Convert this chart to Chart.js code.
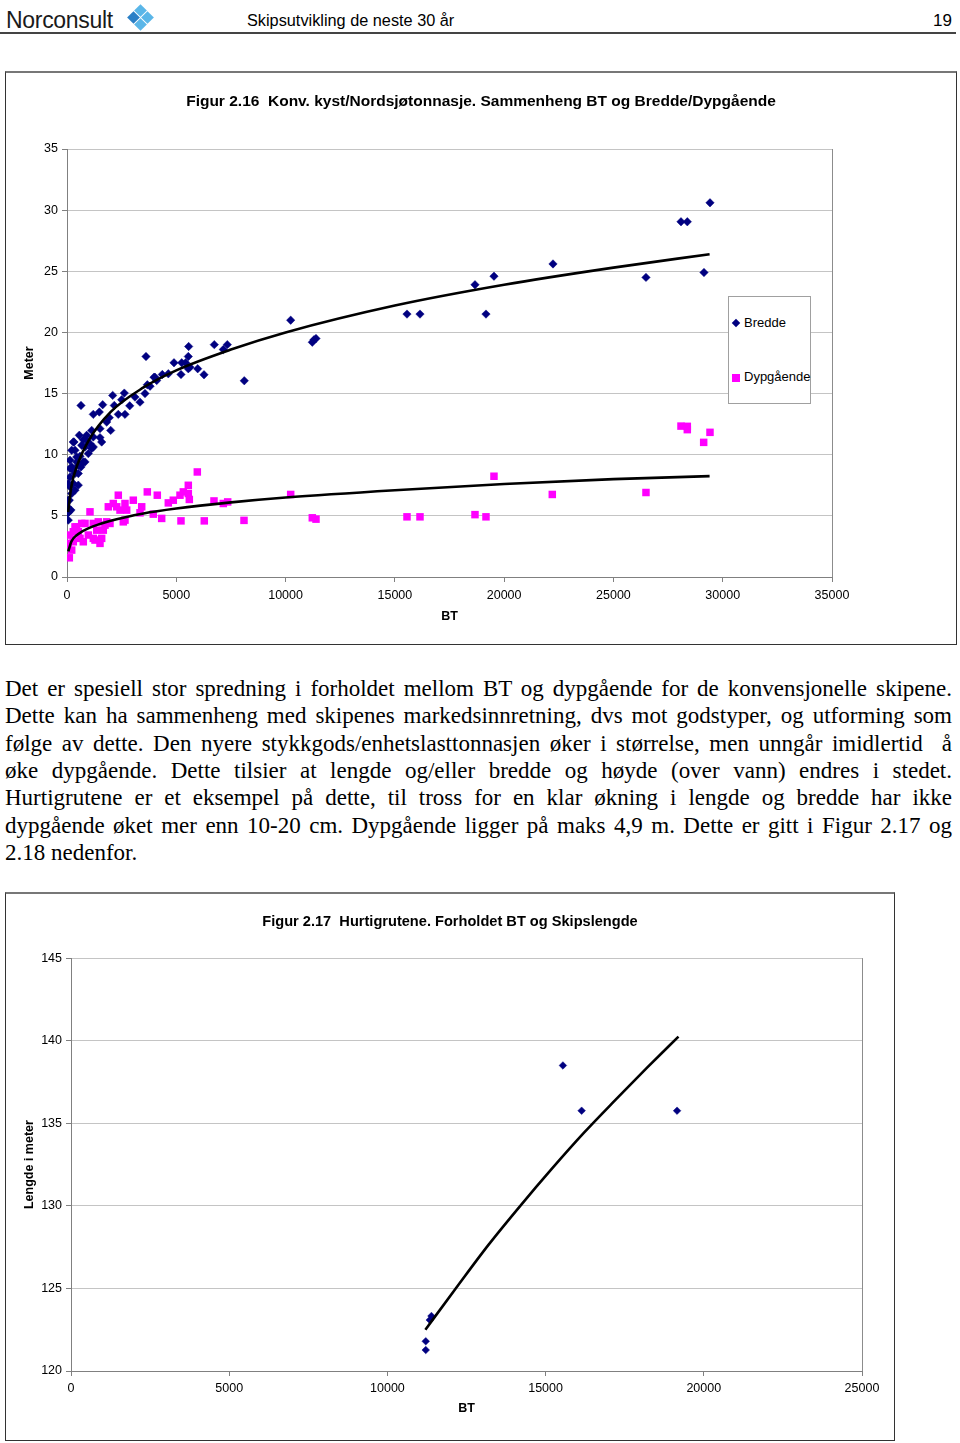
<!DOCTYPE html>
<html><head><meta charset="utf-8">
<script src="https://cdn.jsdelivr.net/npm/chart.js@4.4.0/dist/chart.umd.min.js"></script>
<style>
html,body{margin:0;padding:0;background:#fff;}
body{width:960px;height:1443px;position:relative;overflow:hidden;font-family:"Liberation Sans",Arial,sans-serif;color:#000;}
.abs{position:absolute;}
#brand{left:6px;top:9px;font-size:23px;line-height:23px;color:#1a1a1a;letter-spacing:-0.3px;}
#logo{left:126px;top:5px;width:30px;height:30px;}
.dm{position:absolute;width:9px;height:9px;transform:rotate(45deg);}
#doctitle{left:247px;top:12px;font-size:16.3px;line-height:16px;}
#pageno{left:933px;top:12px;font-size:17px;line-height:17px;}
#hdrline{left:0;top:32px;width:956px;height:2px;background:#444;}
.frame{position:absolute;border:1px solid #333;box-sizing:border-box;background:#fff;}
#f1{left:5px;top:71px;width:952px;height:574px;border-top:2px solid #777;}
#f2{left:5px;top:892px;width:890px;height:549px;border-top:2px solid #777;}
canvas{position:absolute;left:0;top:0;}
#legend{left:728px;top:296px;width:83px;height:108px;border:1px solid #a0a0a0;background:#fff;box-sizing:border-box;font-size:13px;}
.lg{position:absolute;left:15px;line-height:14px;white-space:nowrap;}
.mk{position:absolute;}
#para{left:5px;top:675px;width:947px;font-family:"Liberation Serif","Times New Roman",serif;font-size:23px;}
.ln{position:absolute;left:0;width:947px;height:27.3px;line-height:27.3px;text-align:justify;text-align-last:justify;}
.ln.last{text-align-last:left;}
</style>
</head><body>
<div id="brand" class="abs">Norconsult</div>
<div id="logo" class="abs">
  <div class="dm" style="left:10px;top:1px;background:#5ab6e8;"></div>
  <div class="dm" style="left:3px;top:8px;background:#2a7fc6;"></div>
  <div class="dm" style="left:17px;top:8px;background:#5ab6e8;"></div>
  <div class="dm" style="left:10px;top:15px;background:#5ab6e8;"></div>
</div>
<div id="doctitle" class="abs">Skipsutvikling de neste 30 år</div>
<div id="pageno" class="abs">19</div>
<div id="hdrline" class="abs"></div>

<div id="f1" class="frame"><canvas id="c1" width="950" height="571"></canvas></div>
<div id="legend" class="abs">
  <div class="mk" style="left:4px;top:23px;width:6px;height:6px;background:#000080;transform:rotate(45deg);"></div>
  <div class="lg" style="top:19px;">Bredde</div>
  <div class="mk" style="left:3px;top:77px;width:8px;height:8px;background:#ff00ff;"></div>
  <div class="lg" style="top:73px;">Dypgående</div>
</div>

<div id="para" class="abs">
<div class="ln" style="top:0px;">Det er spesiell stor spredning i forholdet mellom BT og dypgående for de konvensjonelle skipene.</div>
<div class="ln" style="top:27.3px;">Dette kan ha sammenheng med skipenes markedsinnretning, dvs mot godstyper, og utforming som</div>
<div class="ln" style="top:54.6px;">følge av dette. Den nyere stykkgods/enhetslasttonnasjen øker i størrelse, men unngår imidlertid&nbsp; å</div>
<div class="ln" style="top:82px;">øke dypgående. Dette tilsier at lengde og/eller bredde og høyde (over vann) endres i stedet.</div>
<div class="ln" style="top:109.3px;">Hurtigrutene er et eksempel på dette, til tross for en klar økning i lengde og bredde har ikke</div>
<div class="ln" style="top:136.7px;">dypgående øket mer enn 10-20 cm. Dypgående ligger på maks 4,9 m. Dette er gitt i Figur 2.17 og</div>
<div class="ln last" style="top:164px;">2.18 nedenfor.</div>
</div>

<div id="f2" class="frame"><canvas id="c2" width="888" height="546"></canvas></div>

<script>
// ---- Figur 2.16 data ----
const breddeBT = [29418,28091,28380,26489,29143,22235,19535,18666,19169,15555,16150,10234,11223,11392,11300,8111,7334,6739,7151,5566,5550,4895,5248,5430,5627,5980,5550,5215,6268,3980,4360,4635,4104,3614,4026,3675,2090,2622,640,1633,2502,1478,1203,2164,2347,2653,1935,1816,1999,1510,1130,901,563,1203,1510,320,746,1052,1587,824,215,1203,444,975,137,746,59,92,183,59,215,137,288,137,288,215,517,444,517,366,137,595,672,640,824,1130,901,288,366,59,20,14,106,366,517,3111,3340,3569,2870,3800];
const breddeM  = [30.6,29.05,29.05,24.5,24.9,25.6,24.6,23.9,21.5,21.5,21.5,21.0,19.2,19.5,19.4,16.05,19.0,19.0,18.6,18.85,18.03,17.52,17.52,17.52,17.16,17.03,17.03,16.56,16.54,16.34,16.56,16.62,16.07,18.03,16.34,15.72,14.85,15.04,14.03,14.09,14.5,13.49,13.3,14.03,13.3,13.3,13.03,12.67,11.99,12.13,11.99,11.59,11.59,11.45,11.4,11.04,11.23,10.9,11.04,10.63,10.36,10.63,9.81,10.09,9.55,9.41,4.65,5.33,5.47,6.28,6.83,7.37,7.64,8.18,8.73,9.0,8.46,9.41,7.51,7.1,8.87,9.87,10.77,9.0,9.41,10.5,11.18,11.04,10.36,7.64,5.2,5.74,6.28,8.46,9.14,14.71,14.3,15.0,14.0,15.6];

const dypBT = [28091,28380,28380,29418,29129,26489,19535,22203,10234,8098,11223,11392,15555,16150,18666,19169,5962,5550,5550,5321,5170,5596,4863,4635,3674,4131,3418,3948,4332,5215,6281,6725,7151,7352,3033,2653,2653,2347,2274,2118,1890,1816,1661,1587,1359,1203,1052,824,595,444,288,137,59,106,288,215,746,1203,975,517,2425,2731,2576,1432,1739,1967,1510,1281,30,366,672,3340];
const dypM  = [12.34,12.32,12.05,11.83,11.01,6.91,8.24,6.75,6.75,4.63,4.84,4.73,4.92,4.92,5.1,4.92,8.59,7.5,6.83,6.96,6.69,6.34,6.28,6.06,6.96,6.69,5.74,5.14,4.79,4.59,4.59,6.22,6.01,6.14,6.28,6.01,4.65,6.69,5.74,6.01,5.74,4.51,3.83,3.16,3.83,4.38,5.33,4.38,3.16,4.1,3.7,3.43,2.61,1.57,2.88,2.2,2.88,3.16,3.43,3.7,5.47,5.47,4.51,4.51,4.24,4.38,2.75,3.02,2.75,4.1,4.38,5.25];

// trend lines
const trendBreddeBT = [50,200,500,1000,2000,3500,5000,7500,10000,15000,20000,25000,29400];
const trendBreddeM  = [5.3,7.4,9.3,11.2,13.5,15.5,16.9,18.6,20.0,22.2,23.9,25.3,26.4];
const trendDypBT = [60,200,500,1000,2000,3500,5000,7500,10000,15000,20000,25000,29400];
const trendDypM  = [2.1,2.9,3.5,4.0,4.6,5.2,5.6,6.1,6.5,7.1,7.6,8.0,8.25];

// ---- Figur 2.17 data ----
const hurtigBT  = [15547,16139,19155,11392,11339,11212,11212];
const hurtigLen = [138.5,135.76,135.76,123.33,123.09,121.8,121.27];
const trendHurtigBT  = [11200,12200,13200,14200,15200,16200,17200,18200,19200];
const trendHurtigLen = [122.5,125.1,127.65,130.0,132.25,134.4,136.4,138.35,140.25];

const pts = (xs, ys) => xs.map((x, i) => ({x: x, y: ys[i]}));
const FAM = '"Liberation Sans", Arial, sans-serif';
const tickFont = {family: FAM, size: 12.5};
const boldFont = {family: FAM, size: 12.5, weight: 'bold'};

const plotFrame = {
  id: 'plotFrame',
  afterDraw(chart) {
    const {ctx, chartArea: a} = chart;
    ctx.save();
    ctx.strokeStyle = '#8c8c8c';
    ctx.lineWidth = 1;
    ctx.beginPath();
    ctx.moveTo(Math.round(a.right) + 0.5, a.top);
    ctx.lineTo(Math.round(a.right) + 0.5, a.bottom);
    ctx.stroke();
    ctx.restore();
  }
};

function trendDS(xs, ys) {
  return {data: pts(xs, ys), showLine: true, borderColor: '#000', borderWidth: 2.6,
    pointRadius: 0, fill: false, cubicInterpolationMode: 'monotone', order: -1};
}
function spacer(w) {
  return {position: 'right', display: true, ticks: {display: false}, grid: {display: false, drawTicks: false},
    border: {display: false}, afterFit: s => { s.width = w; }};
}

new Chart(document.getElementById('c1'), {
  type: 'scatter',
  data: {datasets: [
    trendDS(trendBreddeBT, trendBreddeM),
    trendDS(trendDypBT, trendDypM),
    {label: 'Bredde', data: pts(breddeBT, breddeM), pointStyle: 'rectRot', pointRadius: 4.2,
      backgroundColor: '#000080', borderColor: '#000080', borderWidth: 0.5},
    {label: 'Dypgående', data: pts(dypBT, dypM), pointStyle: 'rect', pointRadius: 5.3,
      backgroundColor: '#ff00ff', borderColor: '#ff00ff', borderWidth: 0}
  ]},
  options: {
    responsive: false, animation: false, events: [],
    layout: {padding: 0},
    plugins: {
      legend: {display: false}, tooltip: {enabled: false},
      title: {display: true, text: 'Figur 2.16  Konv. kyst/Nordsjøtonnasje. Sammenheng BT og Bredde/Dypgående',
        color: '#000', font: {family: FAM, size: 15.5, weight: 'bold'}, padding: {top: 19.7, bottom: 37.7}}
    },
    scales: {
      x: {type: 'linear', min: 0, max: 35000,
        ticks: {stepSize: 5000, color: '#000', font: tickFont, padding: 6.5, maxRotation: 0, callback: v => String(v)},
        grid: {drawOnChartArea: false, drawTicks: true, tickLength: 5, tickColor: '#808080'},
        border: {color: '#808080', width: 1},
        title: {display: true, text: 'BT', color: '#000', font: boldFont, padding: {top: 0, bottom: 19.5}},
        afterFit: s => { s.height = 67; }},
      y: {type: 'linear', min: 0, max: 35,
        ticks: {stepSize: 5, color: '#000', font: tickFont, padding: 4},
        grid: {color: '#c4c4c4', tickLength: 5, tickColor: '#808080'},
        border: {color: '#808080', width: 1},
        title: {display: true, text: 'Meter', color: '#000', font: boldFont, padding: {top: 16.5, bottom: 0}},
        afterFit: s => { s.width = 61; }},
      pad: spacer(124)
    }
  },
  plugins: [plotFrame]
});

new Chart(document.getElementById('c2'), {
  type: 'scatter',
  data: {datasets: [
    trendDS(trendHurtigBT, trendHurtigLen),
    {label: 'Lengde', data: pts(hurtigBT, hurtigLen), pointStyle: 'rectRot', pointRadius: 3.8,
      backgroundColor: '#000080', borderColor: '#000080', borderWidth: 0.5}
  ]},
  options: {
    responsive: false, animation: false, events: [],
    layout: {padding: 0},
    plugins: {
      legend: {display: false}, tooltip: {enabled: false},
      title: {display: true, text: 'Figur 2.17  Hurtigrutene. Forholdet BT og Skipslengde',
        color: '#000', font: {family: FAM, size: 14.6, weight: 'bold'}, padding: {top: 19.3, bottom: 27.3}}
    },
    scales: {
      x: {type: 'linear', min: 0, max: 25000,
        ticks: {stepSize: 5000, color: '#000', font: tickFont, padding: 5.5, maxRotation: 0, callback: v => String(v)},
        grid: {drawOnChartArea: false, drawTicks: true, tickLength: 5, tickColor: '#808080'},
        border: {color: '#808080', width: 1},
        title: {display: true, text: 'BT', color: '#000', font: boldFont, padding: {top: 0, bottom: 23.5}},
        afterFit: s => { s.height = 69; }},
      y: {type: 'linear', min: 120, max: 145,
        ticks: {stepSize: 5, color: '#000', font: tickFont, padding: 4},
        grid: {color: '#c4c4c4', tickLength: 5, tickColor: '#808080'},
        border: {color: '#808080', width: 1},
        title: {display: true, text: 'Lengde i meter', color: '#000', font: boldFont, padding: {top: 16.5, bottom: 0}},
        afterFit: s => { s.width = 65; }},
      pad: spacer(32)
    }
  },
  plugins: [plotFrame]
});
</script>
</body></html>
